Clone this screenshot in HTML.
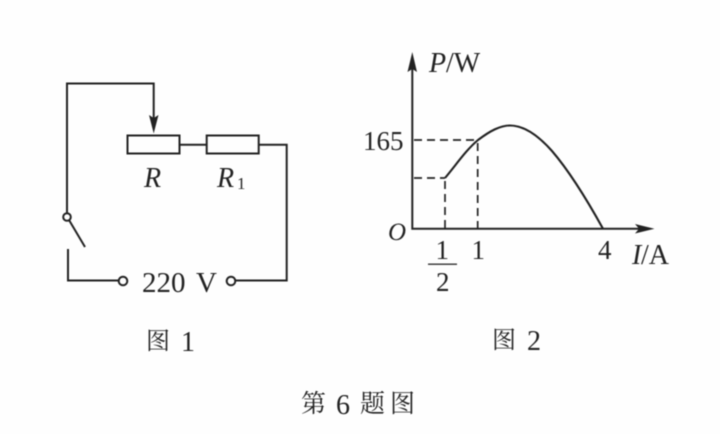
<!DOCTYPE html>
<html><head><meta charset="utf-8"><style>
html,body{margin:0;padding:0;background:#fefefe}
svg{display:block;filter:blur(.4px)}
text{font-family:"Liberation Serif","Noto Serif CJK SC",serif;fill:#222}
.i{font-style:italic}
</style></head><body>
<svg width="720" height="434" viewBox="0 0 720 434" xmlns="http://www.w3.org/2000/svg">
<g fill="none" stroke="#222" stroke-width="2">
<path d="M67 213V83.500H153.700V118"/>
<rect x="127.500" y="135.500" width="52" height="18"/>
<rect x="206.700" y="135.500" width="52" height="18"/>
<path d="M179.500 144.700H206.700M259 144.700H286.700V280.500H235"/>
<circle cx="67" cy="217" r="3.800"/>
<path d="M69 220L85 247"/>
<path d="M68 249V280.500H119"/>
<circle cx="123" cy="281" r="4.300"/>
<circle cx="231" cy="281" r="4.300"/>
<path d="M412.300 68V228.700H640"/>
<path d="M445 178C456 165 466 150 478 140C490 131 500 125.500 510 125.500C522 125.500 536 133 552 151C570 172 586 198 603 228.700" stroke-width="2.100"/>
</g>
<g fill="none" stroke="#222" stroke-width="1.700" stroke-dasharray="8 5">
<path d="M414 140H478"/>
<path d="M414 178H445"/>
<path d="M445 181V228"/>
<path d="M477.700 143V228"/>
</g>
<g fill="#222">
<path d="M153.700 133.500L149 115L153.700 118L158.500 115Z"/>
<path d="M412.300 52L407.500 72L412.300 69L417 72Z"/>
<path d="M654.500 228.700L635 224L639 228.700L635 233.500Z"/>
</g>
<rect x="428" y="263.500" width="29" height="1.400" fill="#333"/>
<text x="144" y="187" font-size="28" class="i">R</text>
<text x="217" y="187" font-size="28" class="i">R</text>
<text x="237" y="189" font-size="17">1</text>
<text x="142" y="292" font-size="29">220</text>
<text x="196" y="292" font-size="29">V</text>
<text x="429" y="72" font-size="28" class="i">P</text>
<text x="446" y="72" font-size="28">/W</text>
<text x="363" y="150" font-size="27">165</text>
<text x="388" y="240" font-size="25" class="i">O</text>
<text x="435.500" y="259" font-size="27">1</text>
<text x="436" y="291" font-size="27">2</text>
<text x="471.500" y="259" font-size="27">1</text>
<text x="598" y="259" font-size="27">4</text>
<text x="632" y="264" font-size="28" class="i">I</text>
<text x="641" y="264" font-size="28">/A</text>
<text x="146" y="349" font-size="24">图</text>
<text x="181" y="351" font-size="28">1</text>
<text x="492" y="348" font-size="24">图</text>
<text x="527" y="350" font-size="28">2</text>
<text x="301" y="412" font-size="25">第</text>
<text x="336" y="414" font-size="28">6</text>
<text x="360" y="412" font-size="25">题</text>
<text x="390" y="412" font-size="25">图</text>
</svg>
</body></html>
